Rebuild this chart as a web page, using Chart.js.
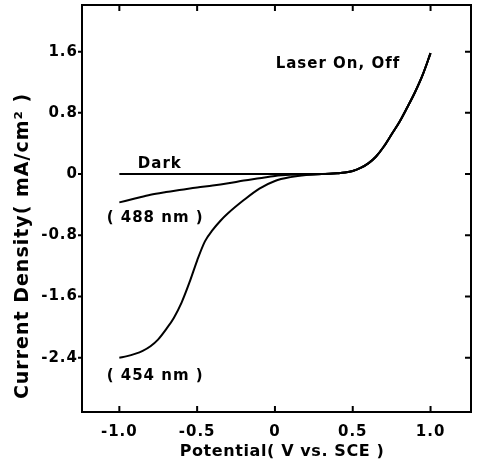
<!DOCTYPE html>
<html><head><meta charset="utf-8">
<script src="https://cdn.jsdelivr.net/npm/chart.js@4"></script>
<style>html,body{margin:0;padding:0;background:#fff;}#wrap{width:480px;height:462px;position:relative}</style>
</head><body><div id="wrap"><canvas id="c" width="480" height="462"></canvas></div>
<script>
const xTickValues = [-1.0, -0.5, 0, 0.5, 1.0];
const xTickLabels = ['-1.0', '-0.5', '0', '0.5', '1.0'];
const yTickValues = [-2.4, -1.6, -0.8, 0, 0.8, 1.6];
const yTickLabels = ['-2.4', '-1.6', '-0.8', '0', '0.8', '1.6'];

// Dark branch
const darkV = [-1.0, -0.5, 0.0, 0.3];
const darkJ = [0, 0, 0, 0];
// 488 nm branch
const v488 = [-1.0, -0.9, -0.8, -0.7, -0.6, -0.5, -0.4, -0.3, -0.2, -0.1, 0.0, 0.1, 0.2, 0.3];
const j488 = [-0.37, -0.32, -0.27, -0.235, -0.205, -0.175, -0.15, -0.12, -0.085, -0.055, -0.025, -0.01, -0.003, 0];
// 454 nm branch
const v454 = [-1.0, -0.95, -0.9, -0.85, -0.8, -0.75, -0.7, -0.65, -0.6, -0.55, -0.5, -0.45, -0.4, -0.35, -0.3, -0.2, -0.1, 0.0, 0.1, 0.2, 0.3];
const j454 = [-2.40, -2.38, -2.35, -2.31, -2.25, -2.16, -2.03, -1.88, -1.68, -1.42, -1.13, -0.88, -0.73, -0.61, -0.51, -0.34, -0.19, -0.09, -0.04, -0.012, 0];
// common anodic rise (laser on, off)
const riseV = [0.35, 0.4, 0.45, 0.5, 0.55, 0.6, 0.65, 0.7, 0.75, 0.8, 0.85, 0.9, 0.95, 1.0];
const riseJ = [0.003, 0.01, 0.02, 0.04, 0.08, 0.14, 0.23, 0.36, 0.52, 0.68, 0.87, 1.07, 1.30, 1.58];

const xTitle = 'Potential( V vs. SCE )';
const yTitle = 'Current Density( mA/cm\u00B2 )';
const notes = [
  {text: 'Dark', x: -0.74, y: 0.13},
  {text: '( 488 nm )', x: -0.77, y: -0.575},
  {text: '( 454 nm )', x: -0.77, y: -2.64},
  {text: 'Laser On, Off', x: 0.405, y: 1.44}
];

function pts(vs, js) { return vs.map((v, i) => ({x: v, y: js[i]})); }
function series(vs, js) { return pts(vs, js).concat(pts(riseV, riseJ)); }

const FONT = 'DejaVu Sans';

const decor = {
  id: 'decor',
  beforeDraw(chart) { chart.ctx.letterSpacing = '1px'; },
  afterDraw(chart) {
    const {ctx, chartArea: a, scales: {x, y}} = chart;
    ctx.save();
    ctx.strokeStyle = '#000';
    ctx.lineWidth = 2;
    ctx.strokeRect(a.left, a.top, a.right - a.left, a.bottom - a.top);
    ctx.beginPath();
    xTickValues.forEach(v => {
      const px = x.getPixelForValue(v);
      ctx.moveTo(px, a.bottom); ctx.lineTo(px, a.bottom - 6);
      ctx.moveTo(px, a.top); ctx.lineTo(px, a.top + 6);
    });
    yTickValues.forEach(v => {
      const py = y.getPixelForValue(v);
      ctx.moveTo(a.left - 4, py); ctx.lineTo(a.left, py);
      ctx.moveTo(a.right, py); ctx.lineTo(a.right - 6, py);
    });
    ctx.stroke();
    ctx.fillStyle = '#000';
    ctx.textAlign = 'center';
    ctx.textBaseline = 'middle';
    ctx.letterSpacing = '1px';
    ctx.font = 'bold 15px "' + FONT + '"';
    notes.forEach(n => {
      ctx.fillText(n.text, x.getPixelForValue(n.x), y.getPixelForValue(n.y));
    });
    ctx.letterSpacing = '0.6px';
    ctx.font = 'bold 16px "' + FONT + '"';
    ctx.fillText(xTitle, 282, 452);
    ctx.translate(23, 246);
    ctx.rotate(-Math.PI / 2);
    ctx.letterSpacing = '1px';
    ctx.font = 'bold 19px "' + FONT + '"';
    ctx.fillText(yTitle, 0, 0);
    ctx.restore();
  }
};

const lineStyle = {borderColor: '#000', borderWidth: 2, pointRadius: 0, showLine: true, fill: false, cubicInterpolationMode: 'monotone'};

new Chart(document.getElementById('c'), {
  type: 'scatter',
  data: {
    datasets: [
      Object.assign({label: 'Dark', data: series(darkV, darkJ)}, lineStyle),
      Object.assign({label: '488 nm', data: series(v488, j488)}, lineStyle),
      Object.assign({label: '454 nm', data: series(v454, j454)}, lineStyle)
    ]
  },
  options: {
    responsive: false,
    animation: false,
    devicePixelRatio: 1,
    layout: {padding: {top: 5, right: 9, left: 0, bottom: 0}},
    plugins: {legend: {display: false}, tooltip: {enabled: false}},
    scales: {
      x: {
        type: 'linear', min: -1.24, max: 1.26,
        grid: {display: false, drawTicks: false},
        border: {display: false},
        afterBuildTicks: s => { s.ticks = xTickValues.map(v => ({value: v})); },
        afterFit: s => { s.height = 50; s.paddingLeft = 0; s.paddingRight = 0; },
        ticks: {
          padding: 11, color: '#000', font: {family: FONT, size: 15, weight: 'bold'},
          maxRotation: 0, autoSkip: false,
          callback: (v) => xTickLabels[xTickValues.indexOf(v)]
        }
      },
      y: {
        type: 'linear', min: -3.11, max: 2.21,
        grid: {display: false, drawTicks: false},
        border: {display: false},
        afterBuildTicks: s => { s.ticks = yTickValues.map(v => ({value: v})); },
        afterFit: s => { s.width = 82; s.paddingTop = 0; s.paddingBottom = 0; },
        ticks: {
          padding: 4, color: '#000', font: {family: FONT, size: 15, weight: 'bold'},
          autoSkip: false,
          callback: (v) => yTickLabels[yTickValues.indexOf(v)]
        }
      }
    }
  },
  plugins: [decor]
});
</script>
</body></html>
